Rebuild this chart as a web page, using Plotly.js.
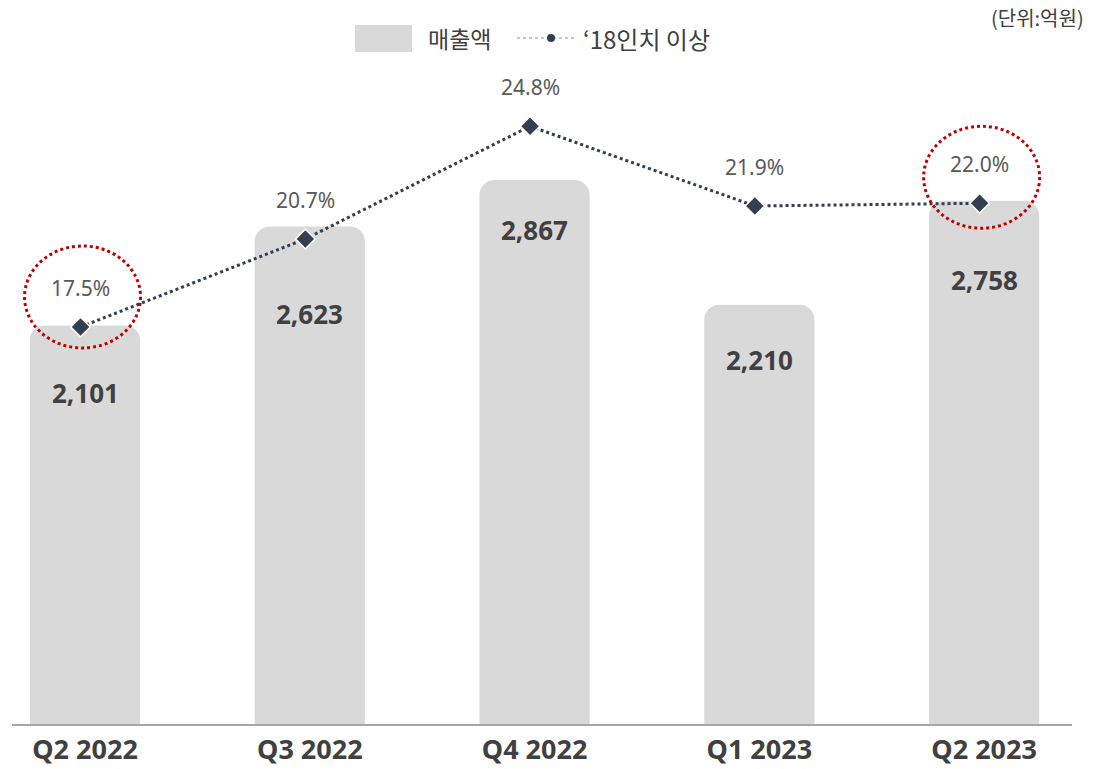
<!DOCTYPE html>
<html><head><meta charset="utf-8">
<script src="https://cdn.plot.ly/plotly-3.0.1.min.js"></script>
<style>body{margin:0;background:#fff}#chart{width:1109px;height:769px}</style>
</head><body><div id="chart"></div>
<script>
const categories = ["Q2 2022","Q3 2022","Q4 2022","Q1 2023","Q2 2023"];
const sales = [2101, 2623, 2867, 2210, 2758];
const salesLabels = ["2,101","2,623","2,867","2,210","2,758"];
const share18 = [17.5, 20.7, 24.8, 21.9, 22.0];
const shareLabels = ["17.5%","20.7%","24.8%","21.9%","22.0%"];
const highlighted = [0, 4];
const seriesNames = ["매출액", "‘18인치 이상"];
const unitText = "(단위:억원)";

const FONT = "'Noto Sans', 'Noto Sans CJK KR', sans-serif";
const KFONT = "'Noto Sans CJK KR', 'Noto Sans', sans-serif";
const idx = categories.map((c,i)=>i);

const barTrace = {
  type:'bar', x: idx, y: sales, name: seriesNames[0],
  width: 0.49,
  marker:{color:'#d9d9d9', cornerradius: 15},
  hoverinfo:'skip', showlegend:false
};
const lineTrace = {
  type:'scatter', mode:'lines+markers', x: idx, y: share18, name: seriesNames[1],
  xaxis:'x2', yaxis:'y2',
  line:{color:'#333f50', width:3, dash:'dot'},
  marker:{symbol:'diamond', size:15, color:'#333f50', line:{color:'#ffffff', width:1.5}},
  hoverinfo:'skip', showlegend:false
};

const barLabelShift = [-68, -88, -50, -55, -79];
const annotations = [];
idx.forEach(i=>{
  annotations.push({x:i, y:sales[i], xref:'x', yref:'y', text:salesLabels[i], showarrow:false,
    yshift: barLabelShift[i], font:{family:FONT, size:26, color:'#404040', weight:'bold'}});
  annotations.push({x:i, y:share18[i], xref:'x2', yref:'y2', text:shareLabels[i], showarrow:false,
    yshift: 39, font:{family:FONT, size:21, color:'#595959'}});
});
annotations.push({xref:'paper', yref:'paper', x:1.0, xshift:14, y:1.0, yanchor:'middle', xanchor:'right', yshift:43,
  text:unitText, showarrow:false, font:{family:KFONT, size:20, color:'#404040'}});
// legend (manual)
annotations.push({xref:'paper', yref:'paper', x:(426-12)/1060, y:1, yshift:22, xanchor:'left', yanchor:'middle',
  text:seriesNames[0], showarrow:false, font:{family:KFONT, size:23, color:'#404040'}});
annotations.push({xref:'paper', yref:'paper', x:(581-12)/1060, y:1, yshift:22, xanchor:'left', yanchor:'middle',
  text:seriesNames[1], showarrow:false, font:{family:KFONT, size:24, color:'#404040'}});

const shapes = [
  {type:'rect', xref:'paper', yref:'paper', x0:(355-12)/1060, x1:(412-12)/1060, y0:1+(60-52)/664, y1:1+(60-25)/664,
    fillcolor:'#d9d9d9', line:{width:0}},
  {type:'line', xref:'paper', yref:'paper', x0:(517-12)/1060, x1:(576-12)/1060, y0:1+(60-38)/664, y1:1+(60-38)/664,
    line:{color:'#8a93a3', width:1, dash:'dot'}},
  {type:'circle', xref:'paper', yref:'paper', x0:(547-12)/1060, x1:(555-12)/1060, y0:1+(60-42)/664, y1:1+(60-34)/664,
    fillcolor:'#333f50', line:{width:0}}
];
highlighted.forEach(i=>{
  const up = i===0 ? 30 : 26;
  shapes.push({type:'circle', xref:'x2', yref:'y2', xsizemode:'pixel', ysizemode:'pixel',
    xanchor:i, yanchor:share18[i], x0:-56, x1:60, y0:up-51, y1:up+51,
    line:{color:'#c00000', width:3, dash:'dot'}});
});

const layout = {
  width:1109, height:769,
  margin:{l:12, r:37, t:60, b:45},
  paper_bgcolor:'#ffffff', plot_bgcolor:'#ffffff',
  showlegend:false,
  xaxis:{range:[-0.325, 4.391], tickvals:idx, ticktext:categories, showgrid:false, zeroline:false,
    showline:true, linecolor:'#a6a6a6', linewidth:2, ticks:'', ticklabelstandoff:1,
    tickfont:{family:FONT, size:27, color:'#404040', weight:'bold'}},
  xaxis2:{range:[-0.305, 4.411], overlaying:'x', visible:false},
  yaxis:{range:[0, 3500], visible:false, showgrid:false, zeroline:false},
  yaxis2:{range:[3.06, 27.21], overlaying:'y', visible:false},
  annotations, shapes
};
Plotly.newPlot('chart', [barTrace, lineTrace], layout, {displayModeBar:false, staticPlot:true});
</script></body></html>
